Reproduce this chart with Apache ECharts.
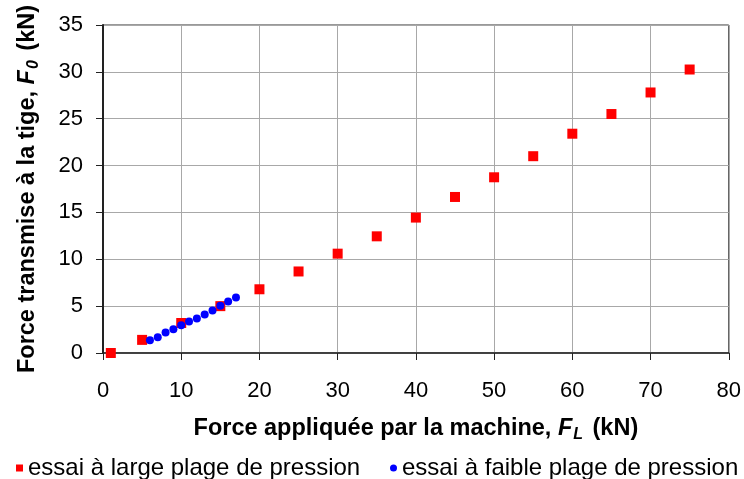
<!DOCTYPE html>
<html>
<head>
<meta charset="utf-8">
<script src="https://cdn.jsdelivr.net/npm/echarts@6/dist/echarts.min.js"></script>
<style>
  html, body { margin: 0; padding: 0; background: #fff; }
  #chart { width: 744px; height: 479px; }
</style>
</head>
<body>
<div id="chart"></div>
<script>
// Essai à large plage de pression : force appliquée (kN) -> force transmise (kN)
const largeX = [1, 5, 10, 15, 20, 25, 30, 35, 40, 45, 50, 55, 60, 65, 70, 75];
const largeY = [0.0, 1.4, 3.2, 5.0, 6.8, 8.7, 10.6, 12.45, 14.45, 16.65, 18.75, 21.0, 23.4, 25.5, 27.8, 30.25];

// Essai à faible plage de pression
const faibleX = [6, 7, 8, 9, 10, 11, 12, 13, 14, 15, 16, 17];
const faibleY = [1.36, 1.68, 2.2, 2.54, 2.97, 3.35, 3.67, 4.1, 4.53, 5.03, 5.49, 5.92];

const seriesNames = ['essai à large plage de pression', 'essai à faible plage de pression'];

const FONT = '"Liberation Sans", Arial, sans-serif';

const toPairs = (xs, ys) => xs.map((x, i) => [x, ys[i]]);

// Bold axis title with an italic subscripted symbol
const titleRich = {
  t: { fontFamily: FONT, fontSize: 23.5, fontWeight: 'bold', color: '#000' },
  f: { fontFamily: FONT, fontSize: 23.5, fontWeight: 'bold', fontStyle: 'italic', color: '#000' },
  s: { fontFamily: FONT, fontSize: 16, fontWeight: 'bold', fontStyle: 'italic', color: '#000', padding: [12, 3, 0, 1] }
};

const chart = echarts.init(document.getElementById('chart'), null, { renderer: 'canvas' });

chart.setOption({
  backgroundColor: '#ffffff',
  animation: false,
  textStyle: { fontFamily: FONT },
  grid: {
    left: 103, right: 15, top: 25, bottom: 126,
    show: true, borderColor: '#333333', borderWidth: 1
  },
  xAxis: {
    type: 'value', min: 0, max: 80, interval: 10,
    name: '{t|Force appliquée par la machine, }{f|F}{s|L}{t| (kN)}',
    nameLocation: 'middle', nameGap: 62,
    nameTextStyle: { rich: titleRich },
    axisLine: { lineStyle: { color: '#222', width: 1.5 } },
    axisTick: { show: true, inside: false, length: 7, lineStyle: { color: '#222' } },
    axisLabel: { fontFamily: FONT, fontSize: 22, color: '#000', margin: 27 },
    splitLine: { show: true, lineStyle: { color: '#a8a8a8', width: 1 } }
  },
  yAxis: {
    type: 'value', min: 0, max: 35, interval: 5,
    name: '{t|Force transmise à la tige, }{f|F}{s|0}{t| (kN)}',
    nameLocation: 'middle', nameGap: 61, nameRotate: 90,
    nameTextStyle: { rich: titleRich },
    axisLine: { lineStyle: { color: '#222', width: 2 } },
    axisTick: { show: true, inside: false, length: 7, lineStyle: { color: '#222' } },
    axisLabel: { fontFamily: FONT, fontSize: 22, color: '#000', margin: 20 },
    splitLine: { show: true, lineStyle: { color: '#a8a8a8', width: 1 } }
  },
  legend: [
    {
      data: [{ name: seriesNames[0], icon: 'rect' }],
      left: 16, top: 456, padding: 0, itemWidth: 7, itemHeight: 7, itemGap: 0, itemTextGap: 13,
      textStyle: { fontFamily: FONT, fontSize: 24, color: '#000' }
    },
    {
      data: [{ name: seriesNames[1], icon: 'circle' }],
      left: 390, top: 456, padding: 0, itemWidth: 7, itemHeight: 7, itemGap: 0, itemTextGap: 12,
      textStyle: { fontFamily: FONT, fontSize: 24, color: '#000' }
    }
  ],
  series: [
    {
      name: seriesNames[0], type: 'scatter', symbol: 'rect', symbolSize: 10,
      itemStyle: { color: '#ff0000', opacity: 1 },
      data: toPairs(largeX, largeY), z: 2
    },
    {
      name: seriesNames[1], type: 'scatter', symbol: 'circle', symbolSize: 8,
      itemStyle: { color: '#0000ff', opacity: 1 },
      data: toPairs(faibleX, faibleY), z: 3
    }
  ]
});
</script>
</body>
</html>
